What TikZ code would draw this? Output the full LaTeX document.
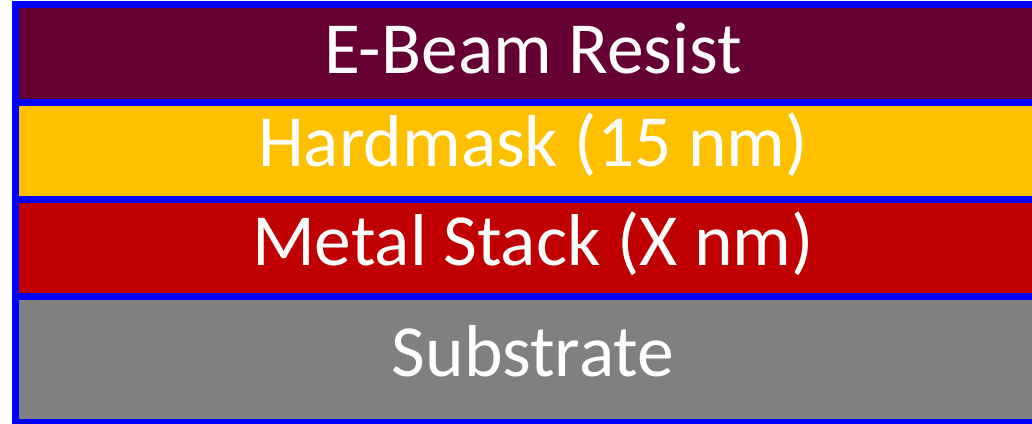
\documentclass[tikz,border=0pt]{standalone}
\usepackage{fontspec}
\setmainfont{Carlito}
\definecolor{resist}{HTML}{660033}
\definecolor{hardmask}{HTML}{FFC000}
\definecolor{metal}{HTML}{C00000}
\definecolor{substrate}{HTML}{808080}
\definecolor{edge}{HTML}{0000FF}
\tikzset{
  layer/.style={draw=edge, line width=7pt, minimum width=1033pt, inner sep=0pt, outer sep=0pt, rectangle},
  labeltext/.style={text=white, font=\fontsize{73.5}{86}\selectfont, inner sep=0pt, anchor=base}
}
\begin{document}
\begin{tikzpicture}[x=1pt,y=-1pt]
\useasboundingbox (0,0) rectangle (1032,423);
\node[layer, fill=resist, minimum height=98pt] (resist) at (532,53.5) {};
\node[layer, fill=hardmask, minimum height=97pt] (hardmask) at (532,151) {};
\node[layer, fill=metal, minimum height=97pt] (metal) at (532,248) {};
\node[layer, fill=substrate, minimum height=126pt] (substrate) at (532,359.5) {};
\node[labeltext] (resistT) at (533,73) {E-Beam Resist};
\node[labeltext] (hardmaskT) at (533,166) {Hardmask (15 nm)};
\node[labeltext] (metalT) at (533,265) {Metal Stack (X nm)};
\node[labeltext] (substrateT) at (533,376) {Substrate};
\end{tikzpicture}
\end{document}
